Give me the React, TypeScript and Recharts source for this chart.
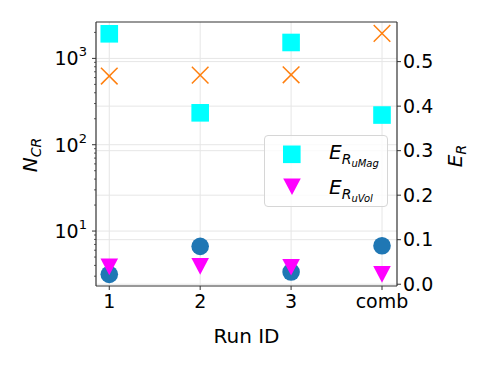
import React from "react";
import {
  ComposedChart,
  Label,
  ReferenceLine,
  Scatter,
  XAxis,
  YAxis,
} from "recharts";

// Runs along the x axis (4 = "comb")
const runIds = [1, 2, 3, 4];
const runLabels = ["1", "2", "3", "comb"];

// left axis, log scale
const nCrCircle = [3.15, 6.65, 3.35, 6.77];
const nCrCross = [624, 640, 645, 1950];

// right axis, linear
const erMag = [0.5625, 0.385, 0.543, 0.38];
const erVol = [0.039, 0.04, 0.038, 0.022];

const leftMajor = [10, 100, 1000];
const leftMinor = [3, 4, 5, 6, 7, 8, 9, 20, 30, 40, 50, 60, 70, 80, 90, 200, 300, 400, 500, 600, 700, 800, 900, 2000];
const rightTicks = [0, 0.1, 0.2, 0.3, 0.4, 0.5];

const leftDomain = [2.31, 2640];
const rightDomain = [-0.004, 0.589];

const toPoints = (ys: number[]) => runIds.map((x, i) => ({ x, y: ys[i] }));

const FONT = "DejaVu Sans";
const SPINE = "#333";
const GRID = "#e6e6e6";

const Circle = (p: any) => <circle cx={p.cx} cy={p.cy} r={8.8} fill="#1f77b4" />;
const Cross = (p: any) => (
  <g stroke="#ff7f0e" strokeWidth={1.5}>
    <line x1={p.cx - 8.3} y1={p.cy - 8.3} x2={p.cx + 8.3} y2={p.cy + 8.3} />
    <line x1={p.cx - 8.3} y1={p.cy + 8.3} x2={p.cx + 8.3} y2={p.cy - 8.3} />
  </g>
);
const Square = (p: any) => <rect x={p.cx - 8.8} y={p.cy - 8.8} width={17.6} height={17.6} fill="#00ffff" />;
const TriDown = (p: any) => (
  <polygon
    points={`${p.cx - 8.8},${p.cy - 8.3} ${p.cx + 8.8},${p.cy - 8.3} ${p.cx},${p.cy + 8.3}`}
    fill="#ff00ff"
  />
);

const LeftTick = (props: any) => {
  const { x, y, payload } = props;
  const v = payload.value;
  const major = leftMajor.includes(v);
  if (!major) {
    return <line x1={x - 2} x2={x} y1={y} y2={y} stroke={SPINE} strokeWidth={0.8} />;
  }
  const exp = Math.round(Math.log10(v));
  return (
    <g>
      <line x1={x - 4} x2={x} y1={y} y2={y} stroke={SPINE} strokeWidth={1} />
      <text x={x - 9} y={y + 7} textAnchor="end" fontSize={19} fill="#000" fontFamily={FONT}>
        <tspan>10</tspan>
        <tspan dy={-9} fontSize={13}>{exp}</tspan>
      </text>
    </g>
  );
};

const LeftLabel = () => (
  <text transform="translate(37,155) rotate(-90)" textAnchor="middle" fontSize={20} fontFamily={FONT} fill="#000">
    <tspan fontStyle="italic">N</tspan>
    <tspan fontStyle="italic" fontSize={14} dy={4}>CR</tspan>
  </text>
);

const RightLabel = () => (
  <text transform="translate(462,156) rotate(-90)" textAnchor="middle" fontSize={20} fontFamily={FONT} fill="#000">
    <tspan fontStyle="italic">E</tspan>
    <tspan fontStyle="italic" fontSize={14} dy={4}>R</tspan>
  </text>
);

const LegendBox = () => (
  <div
    style={{
      position: "absolute",
      left: 264,
      top: 135,
      width: 124,
      height: 72,
      boxSizing: "border-box",
      border: "1px solid #d6d6d6",
      borderRadius: 4,
      background: "rgba(255,255,255,0.8)",
    }}
  >
    <svg width={124} height={72} style={{ position: "absolute", left: -1, top: -1 }}>
      <rect x={19} y={10.5} width={17.6} height={17.6} fill="#00ffff" />
      <polygon points="19.2,43.5 36.8,43.5 28,60" fill="#ff00ff" />
      <text x={65} y={24} fontSize={20} fontFamily={FONT} fill="#000" fontStyle="italic">
        E<tspan fontSize={14} dy={5}>R</tspan>
        <tspan fontSize={10} dy={3}>uMag</tspan>
      </text>
      <text x={65} y={59} fontSize={20} fontFamily={FONT} fill="#000" fontStyle="italic">
        E<tspan fontSize={14} dy={5}>R</tspan>
        <tspan fontSize={10} dy={3}>uVol</tspan>
      </text>
    </svg>
  </div>
);

export default function App() {
  return (
    <div style={{ position: "absolute", left: 0, top: 0, width: 488, height: 366, fontFamily: FONT, background: "#fff" }}>
      <ComposedChart
        width={488}
        height={366}
        margin={{ top: 22, right: 21, left: 26, bottom: 30 }}
      >
        <XAxis
          xAxisId="x"
          dataKey="x"
          type="number"
          domain={[0.854, 4.165]}
          ticks={runIds}
          tickFormatter={(v: number) => runLabels[runIds.indexOf(v)] ?? ""}
          allowDataOverflow
          height={50}
          tickSize={4}
          tickMargin={5}
          tick={{ fontSize: 19, fill: "#000", fontFamily: FONT }}
          axisLine={{ stroke: SPINE, strokeWidth: 1.2 }}
          tickLine={{ stroke: SPINE }}
        >
          <Label value="Run ID" position="insideBottom" offset={0} fontSize={20} fill="#000" fontFamily={FONT} dy={7} />
        </XAxis>
        <YAxis
          yAxisId="left"
          dataKey="y"
          type="number"
          scale="log"
          domain={leftDomain}
          allowDataOverflow
          ticks={[...leftMajor, ...leftMinor]}
          interval={0}
          width={70}
          tickSize={0}
          tickMargin={0}
          tickLine={false}
          tick={<LeftTick />}
          axisLine={{ stroke: SPINE, strokeWidth: 1.2 }}
          label={<LeftLabel />}
        />
        <YAxis
          yAxisId="right"
          orientation="right"
          dataKey="y"
          type="number"
          domain={rightDomain}
          allowDataOverflow
          ticks={rightTicks}
          interval={0}
          width={70}
          tickSize={4}
          tickMargin={2}
          tickFormatter={(v: number) => v.toFixed(1)}
          tick={{ fontSize: 19, fill: "#000", fontFamily: FONT }}
          axisLine={{ stroke: SPINE, strokeWidth: 1.2 }}
          tickLine={{ stroke: SPINE }}
          label={<RightLabel />}
        />

        {runIds.map((v) => (
          <ReferenceLine key={`gx${v}`} xAxisId="x" yAxisId="left" x={v} stroke={GRID} strokeWidth={1} />
        ))}
        {leftMajor.map((v) => (
          <ReferenceLine key={`gl${v}`} xAxisId="x" yAxisId="left" y={v} stroke={GRID} strokeWidth={1} />
        ))}
        {rightTicks.map((v) => (
          <ReferenceLine key={`gr${v}`} xAxisId="x" yAxisId="right" y={v} stroke={GRID} strokeWidth={1} />
        ))}
        <ReferenceLine xAxisId="x" yAxisId="right" y={rightDomain[1]} stroke={SPINE} strokeWidth={1.2} />

        <Scatter xAxisId="x" yAxisId="left" data={toPoints(nCrCircle)} shape={Circle} isAnimationActive={false} />
        <Scatter xAxisId="x" yAxisId="left" data={toPoints(nCrCross)} shape={Cross} isAnimationActive={false} />
        <Scatter xAxisId="x" yAxisId="right" data={toPoints(erMag)} shape={Square} isAnimationActive={false} />
        <Scatter xAxisId="x" yAxisId="right" data={toPoints(erVol)} shape={TriDown} isAnimationActive={false} />
      </ComposedChart>
      <LegendBox />
    </div>
  );
}
